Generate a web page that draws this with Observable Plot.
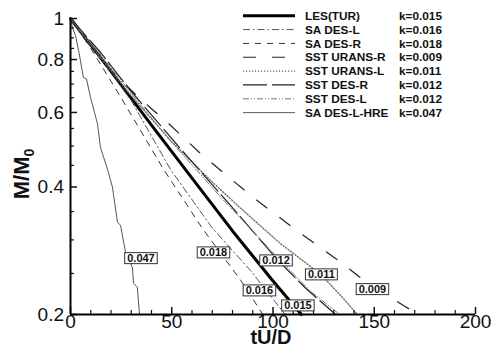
<!DOCTYPE html>
<html><head><meta charset="utf-8">
<script src="https://cdn.jsdelivr.net/npm/d3@7"></script>
<script src="https://cdn.jsdelivr.net/npm/@observablehq/plot@0.6"></script>
<style>
html,body{margin:0;padding:0;background:#fff;}
#chart{position:relative;width:492px;height:349px;font-family:"Liberation Sans",Arial,sans-serif;}
#legend{position:absolute;left:240px;top:0;}
</style></head><body><div id="chart"></div>
<script>
// ---- data ----
const xMajor = [0, 50, 100, 150, 200];
const xMinor = [10, 20, 30, 40, 60, 70, 80, 90, 110, 120, 130, 140, 160, 170, 180, 190];
const yMajor = [0.2, 0.4, 0.6, 0.8, 1];
const yMinor = [0.25, 0.3, 0.35, 0.45, 0.5, 0.55, 0.65, 0.7, 0.75, 0.85, 0.9, 0.95];

const names = ["LES(TUR)", "SA DES-L", "SA DES-R", "SST URANS-R", "SST URANS-L", "SST DES-R", "SST DES-L", "SA DES-L-HRE"];
const kValues = ["0.015", "0.016", "0.018", "0.009", "0.011", "0.012", "0.012", "0.047"];

const lesX = [0, 20, 40, 60, 80, 100, 114];
const lesY = [1, 0.75, 0.56, 0.42, 0.315, 0.24, 0.2];
const saDesLX = [0, 15, 30, 49.4, 70, 88.9, 106];
const saDesLY = [1, 0.8, 0.64, 0.44, 0.32, 0.254, 0.2];
const saDesRX = [0, 10, 25, 46, 65, 84, 95];
const saDesRY = [1, 0.85, 0.65, 0.44, 0.32, 0.241, 0.2];
const sstUransRX = [0, 14.8, 33.6, 47.9, 64.2, 74.1, 91.4, 113.6, 134.3, 144.7, 164.4, 171.9];
const sstUransRY = [1, 0.8, 0.651, 0.568, 0.48, 0.438, 0.374, 0.311, 0.264, 0.241, 0.21, 0.2];
const sstUransLX = [0, 27.7, 49.4, 69.1, 82.5, 103.7, 123.5, 133.3, 141.7];
const sstUransLY = [1, 0.676, 0.515, 0.415, 0.362, 0.294, 0.249, 0.222, 0.2];
const sstDesRX = [0, 15, 29.6, 54.3, 79, 101.7, 116, 130.9];
const sstDesRY = [1, 0.83, 0.676, 0.493, 0.362, 0.271, 0.231, 0.2];
const sstDesLX = [0, 15, 30, 50, 75, 100, 118, 133];
const sstDesLY = [1, 0.82, 0.665, 0.51, 0.375, 0.28, 0.228, 0.2];
const hreX = [0, 1, 2.5, 4, 6.4, 7.9, 9.9, 13.3, 14.8, 18.3, 20.7, 23.2, 24.7, 27.2, 30.6, 31.1, 33, 34.1];
const hreY = [1, 0.95, 0.91, 0.84, 0.725, 0.72, 0.65, 0.565, 0.496, 0.44, 0.40, 0.33, 0.325, 0.28, 0.258, 0.237, 0.232, 0.2];

const seriesX = [lesX, saDesLX, saDesRX, sstUransRX, sstUransLX, sstDesRX, sstDesLX, hreX];
const seriesY = [lesY, saDesLY, saDesRY, sstUransRY, sstUransLY, sstDesRY, sstDesLY, hreY];

const labelText = ["0.047", "0.018", "0.016", "0.015", "0.012", "0.011", "0.009"];
const labelX = [34.8, 70.6, 93.3, 112.3, 101.5, 123.9, 149.1];
const labelY = [0.271, 0.2796, 0.2274, 0.2096, 0.2677, 0.2481, 0.229];

// ---- styles ----
const styles = [
  {stroke: "#000", strokeWidth: 3, dash: null},
  {stroke: "#555", strokeWidth: 1, dash: "7,3,1.5,3"},
  {stroke: "#333", strokeWidth: 1, dash: "6,6"},
  {stroke: "#222", strokeWidth: 1.2, dash: "13,16"},
  {stroke: "#666", strokeWidth: 1.3, dash: "1.2,1.8"},
  {stroke: "#222", strokeWidth: 1.2, dash: "24,5"},
  {stroke: "#777", strokeWidth: 1, dash: "6,2,1,2,1,2"},
  {stroke: "#555", strokeWidth: 1, dash: null}
];

const lineMarks = seriesX.map((xs, i) => Plot.line(xs, {
  x: xs, y: seriesY[i],
  stroke: styles[i].stroke, strokeWidth: styles[i].strokeWidth,
  strokeDasharray: styles[i].dash, curve: "linear"
}));

const plot = Plot.plot({
  width: 492, height: 349,
  marginLeft: 70, marginRight: 17, marginTop: 18, marginBottom: 35,
  style: {fontFamily: '"Liberation Sans", Arial, sans-serif', color: "#111", background: "#fff"},
  x: {domain: [xMajor[0], xMajor[xMajor.length - 1]]},
  y: {type: "log", domain: [yMajor[0], yMajor[yMajor.length - 1]]},
  marks: [
    ...lineMarks,
    Plot.axisX({ticks: xMajor, tickSize: 0, tickPadding: 0, fontSize: 19, label: null, tickFormat: d => String(d)}),
    Plot.axisX({ticks: xMajor, tickSize: -7, fill: "none", label: null, strokeWidth: 1.5}),
    Plot.axisX({ticks: xMinor, tickSize: -4, fill: "none", label: null, strokeWidth: 1.2}),
    Plot.axisY({ticks: yMajor, tickSize: 0, tickPadding: 6.5, fontSize: 19, label: null, tickFormat: d => String(d)}),
    Plot.axisY({ticks: yMajor, tickSize: -7, fill: "none", label: null, strokeWidth: 1.5}),
    Plot.axisY({ticks: yMinor, tickSize: -4, fill: "none", label: null, strokeWidth: 1.2}),
    Plot.ruleX([xMajor[0]], {stroke: "#000", strokeWidth: 2}),
    Plot.ruleY([yMajor[0]], {stroke: "#000", strokeWidth: 2}),
    Plot.text(labelText, {x: labelX, y: labelY, text: labelText, fontSize: 11, fontWeight: "bold", fill: "#111", textAnchor: "middle", lineAnchor: "middle"})
  ]
});

const chart = document.getElementById("chart");
chart.appendChild(plot);

// white boxes behind curve labels
const ns = "http://www.w3.org/2000/svg";
const lg = plot.querySelector('g[aria-label="text"]');
if (lg) {
  lg.querySelectorAll("text").forEach(t => {
    const b = t.getBBox();
    const r = document.createElementNS(ns, "rect");
    r.setAttribute("x", b.x - 2.5); r.setAttribute("y", b.y + 0.5);
    r.setAttribute("width", b.width + 5); r.setAttribute("height", b.height - 1);
    r.setAttribute("fill", "#fff"); r.setAttribute("stroke", "#333"); r.setAttribute("stroke-width", 1);
    const tr = t.getAttribute("transform");
    if (tr) r.setAttribute("transform", tr);
    lg.insertBefore(r, t);
  });
}

// axis titles
const yt = document.createElementNS(ns, "text");
yt.setAttribute("transform", "translate(29,174) rotate(-90)");
yt.setAttribute("text-anchor", "middle");
yt.setAttribute("font-size", 22); yt.setAttribute("font-weight", "bold"); yt.setAttribute("fill", "#111");
yt.innerHTML = 'M/M<tspan font-size="14" dy="5">0</tspan>';
plot.appendChild(yt);
const xt = document.createElementNS(ns, "text");
xt.setAttribute("x", 271); xt.setAttribute("y", 344);
xt.setAttribute("text-anchor", "middle");
xt.setAttribute("font-size", 20); xt.setAttribute("font-weight", "bold"); xt.setAttribute("fill", "#111");
xt.textContent = "tU/D";
plot.appendChild(xt);

// legend
const leg = d3.select(chart).append("svg").attr("id", "legend").attr("width", 252).attr("height", 125);
names.forEach((n, i) => {
  const yy = 15.7 + i * 13.85;
  leg.append("line").attr("x1", 3).attr("x2", 55).attr("y1", yy).attr("y2", yy)
    .attr("stroke", styles[i].stroke).attr("stroke-width", styles[i].strokeWidth)
    .attr("stroke-dasharray", styles[i].dash);
  leg.append("text").attr("x", 65).attr("y", yy).attr("dy", "0.36em")
    .attr("font-size", 11.8).attr("font-weight", "bold").attr("fill", "#111")
    .text(n);
  leg.append("text").attr("x", 159).attr("y", yy).attr("dy", "0.36em")
    .attr("font-size", 11.8).attr("font-weight", "bold").attr("fill", "#111")
    .text("k=" + kValues[i]);
});
</script></body></html>
